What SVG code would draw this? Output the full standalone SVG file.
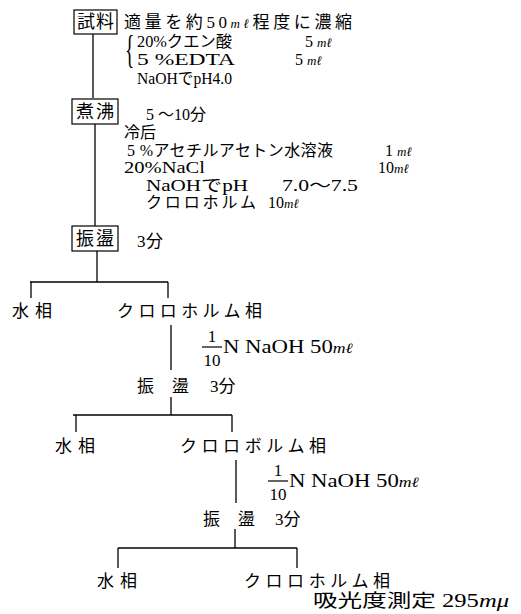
<svg xmlns="http://www.w3.org/2000/svg" width="521" height="614" viewBox="0 0 521 614">
<style>
.t{font-family:"Liberation Serif","Noto Sans CJK JP",serif;font-size:17px;fill:#000}
.s{font-size:16px}
.u{font-style:italic;font-size:13px}
.c{stroke:#000;stroke-width:1.3;fill:none}
.b{stroke:#000;stroke-width:1.2;fill:none}
</style>
<rect width="521" height="614" fill="#fff"/>
<g id="connectors">
<line class="c" x1="93" y1="34" x2="93" y2="98"/>
<line class="c" x1="95" y1="124" x2="95" y2="226"/>
<line class="c" x1="97" y1="251" x2="97" y2="282"/>
<line class="c" x1="30" y1="282" x2="168" y2="282"/>
<line class="c" x1="31" y1="282" x2="31" y2="298"/>
<line class="c" x1="168" y1="282" x2="168" y2="298"/>
<line class="c" x1="171" y1="325" x2="171" y2="370"/>
<line class="c" x1="171" y1="397" x2="171" y2="415"/>
<line class="c" x1="73" y1="415" x2="232" y2="415"/>
<line class="c" x1="76" y1="415" x2="76" y2="432"/>
<line class="c" x1="232" y1="415" x2="232" y2="432"/>
<line class="c" x1="236" y1="460" x2="236" y2="503"/>
<line class="c" x1="235" y1="529" x2="235" y2="548"/>
<line class="c" x1="118" y1="548" x2="297" y2="548"/>
<line class="c" x1="118" y1="548" x2="118" y2="568"/>
<line class="c" x1="297" y1="548" x2="297" y2="568"/>
</g>
<g id="node-shiryo">
<rect class="b" x="74" y="10" width="43" height="24"/>
<text class="t" x="77" y="28" style="font-size:18px" textLength="37">試料</text>
<text class="t" x="124" y="28" textLength="228">適量を約50<tspan class="u">mℓ</tspan>程度に濃縮</text>
<text class="t" transform="translate(125,63) scale(0.5,1)" style="font-size:39px">{</text>
<text class="t s" x="137" y="47" textLength="95" lengthAdjust="spacingAndGlyphs">20%クエン酸</text>
<text class="t s" x="305" y="47">5 <tspan class="u">mℓ</tspan></text>
<text class="t s" x="137" y="65" textLength="98" lengthAdjust="spacingAndGlyphs">5 %EDTA</text>
<text class="t s" x="295" y="65">5 <tspan class="u">mℓ</tspan></text>
<text class="t s" x="137" y="84" textLength="95" lengthAdjust="spacingAndGlyphs">NaOHでpH4.0</text>
</g>
<g id="node-futto">
<rect class="b" x="72" y="99" width="46" height="25"/>
<text class="t" x="76" y="118" style="font-size:18px" textLength="38">煮沸</text>
<text class="t s" x="146" y="120">5 ～10分</text>
<text class="t s" x="124" y="138">冷后</text>
<text class="t s" x="127" y="156" textLength="206">5 %アセチルアセトン水溶液</text>
<text class="t s" x="385" y="156">1 <tspan class="u">mℓ</tspan></text>
<text class="t s" x="124" y="173" textLength="81" lengthAdjust="spacingAndGlyphs">20%NaCl</text>
<text class="t s" x="378" y="173">10<tspan class="u">mℓ</tspan></text>
<text class="t s" x="146" y="191" textLength="102" lengthAdjust="spacingAndGlyphs">NaOHでpH</text>
<text class="t s" x="282" y="191" textLength="76" lengthAdjust="spacingAndGlyphs">7.0～7.5</text>
<text class="t s" x="146" y="208" textLength="110">クロロホルム</text>
<text class="t s" x="268" y="208">10<tspan class="u">mℓ</tspan></text>
</g>
<g id="node-shinto1">
<rect class="b" x="72" y="226" width="46" height="25"/>
<text class="t" x="76" y="245" style="font-size:18px" textLength="38">振盪</text>
<text class="t" x="137" y="247" textLength="26">3分</text>
</g>
<g id="node-suiso1">
<text class="t" x="12" y="317" textLength="40">水相</text>
</g>
<g id="node-chloro1">
<text class="t" x="117" y="317" textLength="145">クロロホルム相</text>
<text class="t" x="212" y="342" text-anchor="middle">1</text>
<line class="b" x1="202" y1="347" x2="222" y2="347"/>
<text class="t" x="212" y="366" text-anchor="middle">10</text>
<text class="t" x="223" y="353" style="font-size:18px" textLength="130" lengthAdjust="spacingAndGlyphs">N  NaOH  50<tspan class="u" style="font-size:14px">mℓ</tspan></text>
</g>
<g id="node-shinto2">
<text class="t" x="137" y="392">振</text>
<text class="t" x="172" y="392">盪</text>
<text class="t" x="210" y="392">3分</text>
</g>
<g id="node-suiso2">
<text class="t" x="55" y="452" textLength="40">水相</text>
</g>
<g id="node-chloro2">
<text class="t" x="180" y="452" textLength="146">クロロボルム相</text>
<text class="t" x="278" y="476" text-anchor="middle">1</text>
<line class="b" x1="268" y1="481" x2="288" y2="481"/>
<text class="t" x="278" y="500" text-anchor="middle">10</text>
<text class="t" x="289" y="487" style="font-size:18px" textLength="130" lengthAdjust="spacingAndGlyphs">N  NaOH  50<tspan class="u" style="font-size:14px">mℓ</tspan></text>
</g>
<g id="node-shinto3">
<text class="t" x="203" y="525">振</text>
<text class="t" x="238" y="525">盪</text>
<text class="t" x="275" y="525">3分</text>
</g>
<g id="node-suiso3">
<text class="t" x="97" y="587" textLength="40">水相</text>
</g>
<g id="node-chloro3">
<text class="t" x="244" y="587" textLength="146">クロロホルム相</text>
<text class="t" x="313" y="607" style="font-size:18px" textLength="196" lengthAdjust="spacingAndGlyphs">吸光度測定 295<tspan style="font-style:italic">mμ</tspan></text>
</g>
</svg>
